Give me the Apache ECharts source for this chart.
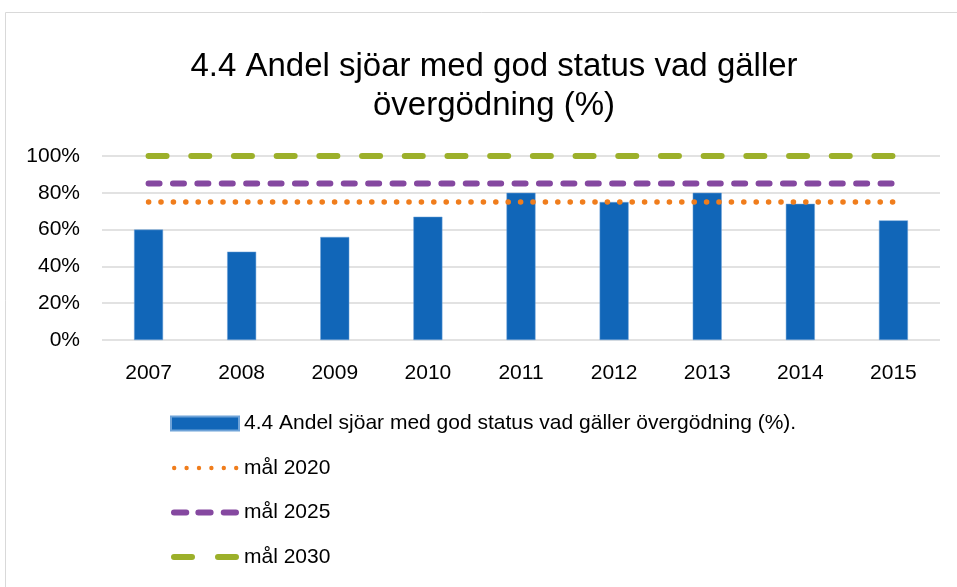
<!DOCTYPE html>
<html>
<head>
    <meta charset="utf-8" />
    <title>Andel sjöar med god status</title>
    <script src="https://cdnjs.cloudflare.com/ajax/libs/echarts/6.0.0/echarts.min.js"></script>
    <style>
        body, html {
            margin: 0;
            padding: 0;
            background: #fff;
        }
        #chart {
            width: 957px;
            height: 587px;
        }
    </style>
</head>
<body>
<div id="chart"></div>
<script type="text/javascript">
    // data
    var years = ['2007', '2008', '2009', '2010', '2011', '2012', '2013', '2014', '2015'];
    var andel = [60, 48, 56, 67, 80, 75, 80, 74, 65];
    var mal2020 = [75, 75, 75, 75, 75, 75, 75, 75, 75];
    var mal2025 = [85, 85, 85, 85, 85, 85, 85, 85, 85];
    var mal2030 = [100, 100, 100, 100, 100, 100, 100, 100, 100];
    var yTicks = [0, 20, 40, 60, 80, 100];

    var barName = '4.4 Andel sjöar med god status vad gäller övergödning (%).';
    var font = '"Liberation Sans", Arial, sans-serif';

    // legend icons drawn as paths (68 x 6 box): dots, dashes, long dashes
    function dots() {
        var p = '';
        for (var i = 0; i < 6; i++) {
            var x = 1 + i * 12.4;
            p += 'M' + x + ' 3a2.2 2.2 0 1 0 4.4 0a2.2 2.2 0 1 0 -4.4 0z';
        }
        return 'path://' + p + 'M0 0h0.01v0.01zM68 6h-0.01v-0.01z';
    }
    function dashes(starts, len) {
        var p = '';
        starts.forEach(function (x) {
            p += 'M' + (x + 3) + ' 0h' + (len - 6) + 'a3 3 0 0 1 0 6h-' + (len - 6) + 'a3 3 0 0 1 0 -6z';
        });
        return 'path://' + p;
    }

    var chart = echarts.init(document.getElementById('chart'));
    var option = {
        backgroundColor: '#fff',
        animation: false,
        textStyle: { fontFamily: font },
        graphic: [{
            type: 'rect',
            shape: { x: 5.5, y: 12.5, width: 1000, height: 1000 },
            style: { fill: 'none', stroke: '#d9d9d9', lineWidth: 1 },
            silent: true
        }],
        title: {
            text: '4.4 Andel sjöar med god status vad gäller\növergödning (%)',
            left: 489,
            top: 42,
            textAlign: 'center',
            textStyle: {
                fontFamily: font,
                fontSize: 33,
                fontWeight: 'normal',
                color: '#000',
                lineHeight: 39
            }
        },
        legend: {
            orient: 'vertical',
            left: 170,
            top: 413,
            padding: 0,
            itemWidth: 68,
            itemHeight: 14,
            itemGap: 23.5,
            symbolKeepAspect: true,
            textStyle: { fontFamily: font, fontSize: 21, color: '#000' },
            data: [
                { name: barName, icon: 'rect' },
                { name: 'mål 2020', icon: dots() },
                { name: 'mål 2025', icon: dashes([0, 24, 49], 18) },
                { name: 'mål 2030', icon: dashes([0, 44], 24) }
            ]
        },
        grid: {
            left: 102,
            right: 17,
            top: 156,
            bottom: 247
        },
        xAxis: {
            type: 'category',
            data: years,
            axisLine: { show: false },
            axisTick: { show: false },
            axisLabel: { fontSize: 21, color: '#000', margin: 23 }
        },
        yAxis: {
            type: 'value',
            min: yTicks[0],
            max: yTicks[yTicks.length - 1],
            interval: 20,
            axisLine: { show: false },
            axisTick: { show: false },
            splitLine: { lineStyle: { color: '#d9d9d9', width: 1.5 } },
            axisLabel: { fontSize: 21, color: '#000', margin: 22, formatter: '{value}%' }
        },
        series: [
            {
                name: barName,
                type: 'bar',
                data: andel,
                barWidth: 29,
                itemStyle: { color: '#1166b8', borderColor: '#6fa3d8', borderWidth: 0.5 }
            },
            {
                name: 'mål 2020',
                type: 'line',
                data: mal2020,
                symbol: 'none',
                color: '#f07d1c',
                lineStyle: { color: '#f07d1c', width: 5.5, type: [0.1, 12.3], cap: 'round' }
            },
            {
                name: 'mål 2025',
                type: 'line',
                data: mal2025,
                symbol: 'none',
                color: '#8548a0',
                lineStyle: { color: '#8548a0', width: 6, type: [11, 13.4], cap: 'round' }
            },
            {
                name: 'mål 2030',
                type: 'line',
                data: mal2030,
                symbol: 'none',
                color: '#9cb02a',
                lineStyle: { color: '#9cb02a', width: 6, type: [18, 24.7], cap: 'round' }
            }
        ]
    };
    chart.setOption(option);
</script>
</body>
</html>
